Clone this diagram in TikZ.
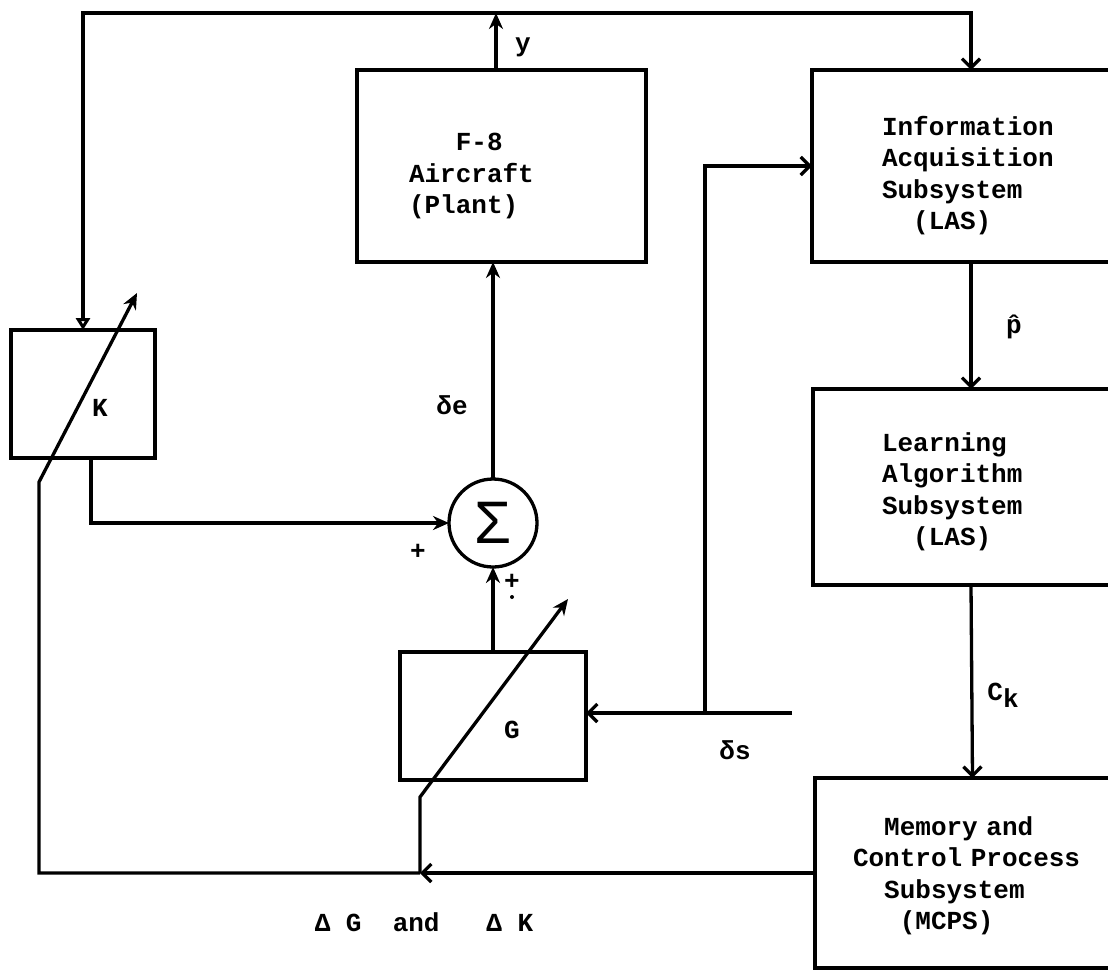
\documentclass[tikz,border=0pt]{standalone}
\usepackage{fontspec}
\setmainfont{Liberation Mono}
\setmonofont{Liberation Mono}
\newfontfamily\sansf{Liberation Sans}
\usetikzlibrary{arrows.meta,calc}
\newcommand{\tfont}{\fontsize{26}{31.5}\selectfont\bfseries}
\newcommand{\sigfont}{\sansf\fontsize{60}{60}\selectfont}
\newcommand{\boxtext}[2]{\raisebox{#1}[\height][\depth]{\begin{tabular}{@{}l@{}}#2\end{tabular}}}
\tikzset{
  ln/.style={line width=3.3pt},
  box/.style={draw, line width=3.3pt, rectangle, outer sep=0pt, inner ysep=0pt, align=left, font=\tfont, anchor=north west},
  farr/.style={ln, -{Stealth[length=16pt,width=14pt]}},
  varr/.style={ln, -{Straight Barb[length=9pt,width=18pt]}},
  oarr/.style={ln, -{Triangle[open,length=12pt,width=14pt]}},
  lbl/.style={font=\tfont, inner sep=0pt},
}
\begin{document}
\begin{tikzpicture}[x=1pt, y=-1pt]
\useasboundingbox (0,0) rectangle (1108,970);
% blocks
\node[box, minimum height=192pt, text width=185pt, inner xsep=52pt] (f8) at (357,70) {\boxtext{-10pt}{\phantom{000}F-8\\Aircraft\\(Plant)}};
\node[box, minimum height=192pt, text width=178pt, inner xsep=70pt] (info) at (812,70) {\boxtext{-10pt}{Information\\Acquisition\\Subsystem\\\phantom{00}(LAS)}};
\node[box, minimum height=196pt, text width=178pt, inner xsep=69pt] (las) at (813,389) {\boxtext{-5pt}{Learning\\Algorithm\\Subsystem\\\phantom{00}(LAS)}};
\node[box, minimum height=190pt, text width=239pt, inner xsep=38pt] (mcps) at (815,778) {\boxtext{-3pt}{\phantom{00}Memory and\\Control Process\\\phantom{00}Subsystem\\\phantom{000}(MCPS)}};
\node[box, minimum width=144pt, minimum height=128pt] (k) at (11,330) {};
\node[box, minimum width=186pt, minimum height=128pt] (g) at (400,652) {};
\node[lbl] (klab) at (100,408) {K};
\node[lbl] (glab) at (512,730) {G};
\node[circle, draw, ln, minimum size=88pt, inner sep=0pt, outer sep=0pt, font=\sigfont] (sig) at (493,523) {Σ};
% coordinates
\coordinate (ytap) at (496,13);
\coordinate (sin) at (792,713);
\coordinate (sj) at (705,713);
\coordinate (bj) at (420,873);
\coordinate (bl) at (39,873);
\coordinate (kk) at (39,482);
\coordinate (ktip) at (137,293);
\coordinate (gk) at (420,797);
\coordinate (gtip) at (568,599);
% connectors
\draw[farr] (f8.north -| ytap) -- (ytap);
\draw[varr] (ytap) -| (info.north);
\draw[oarr] (ytap) -| (k.north);
\draw[farr] (sig.north) -- (sig.north |- f8.south);
\draw[farr] ($(k.south)+(8,0)$) |- (sig.west);
\draw[farr] (g.north) -- (sig.south);
\draw[varr] (sin) -- (sin -| g.east);
\draw[varr] (sj) |- (info.west);
\draw[varr] (info.south) -- (las.north);
\draw[varr] (las.south) -- (mcps.north);
\draw[varr] (mcps.west |- bj) -- (bj);
\draw[farr] (bj) -- (bl) -- (kk) -- (ktip);
\draw[farr] (bj) -- (gk) -- (gtip);
% labels
\node[lbl] (ylab) at (523,47) {y};
\node[lbl] (de) at (452,405) {δe};
\node[lbl] (p1) at (418,552) {+};
\node[lbl] (p2) at (512,582) {+};
\fill (512,597) circle (2pt);
\node[lbl] (phat) at (1014,327) {\accent"02C6 p};
\node[lbl] (ck) at (1003,695) {C\raisebox{-7pt}{k}};
\node[lbl] (ds) at (735,750) {δs};
\node[lbl] (dgk) at (424,922) {Δ~G~~and~~~Δ~K};
\end{tikzpicture}
\end{document}
